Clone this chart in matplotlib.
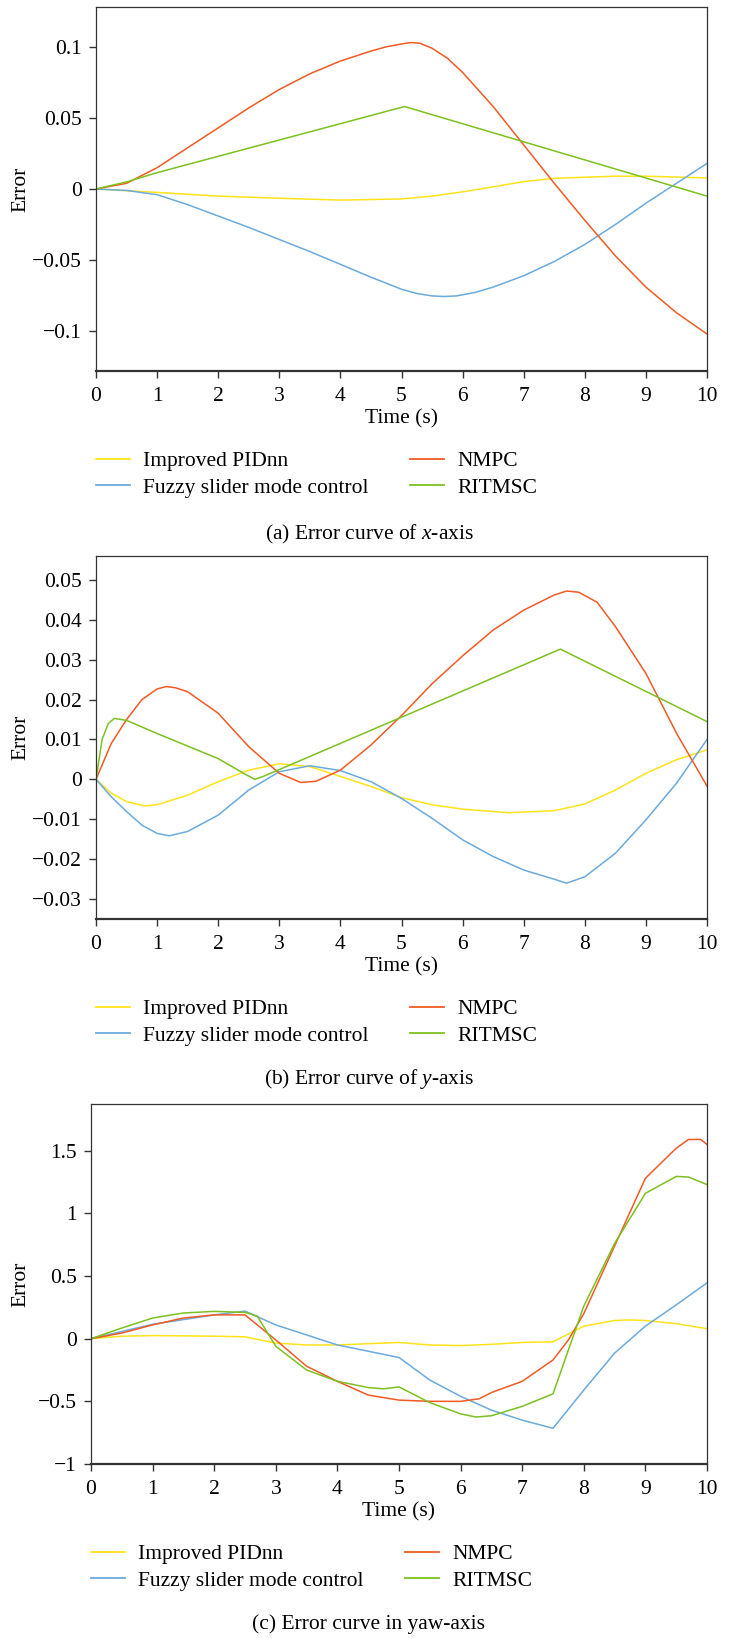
import matplotlib
matplotlib.use("Agg")
import matplotlib.pyplot as plt

plt.rcParams['font.family'] = ['Liberation Serif', 'DejaVu Serif']
plt.rcParams['mathtext.fontset'] = 'custom'
plt.rcParams['mathtext.rm'] = 'Liberation Serif'
plt.rcParams['mathtext.it'] = 'Liberation Serif:italic'

labels = ["Improved PIDnn", "Fuzzy slider mode control", "NMPC", "RITMSC"]
colors = ["#FFE31A", "#6BAADD", "#F25A24", "#7CC11F"]

# ---- (a) x-axis ----
a_pid_t = [0, 1, 2, 3, 4, 5, 5.5, 6, 6.5, 7, 7.5, 8, 8.5, 9, 10]
a_pid_e = [0, -0.0024, -0.005, -0.0065, -0.0078, -0.007, -0.005, -0.002, 0.0015, 0.0052, 0.0075, 0.0083, 0.009, 0.009, 0.0078]
a_fuz_t = [0, 0.5, 1, 1.5, 2, 2.5, 3, 3.5, 4, 4.5, 5, 5.25, 5.5, 5.7, 5.9, 6.2, 6.5, 7, 7.5, 8, 8.5, 9, 9.5, 10]
a_fuz_e = [0, -0.001, -0.004, -0.011, -0.019, -0.027, -0.0355, -0.044, -0.053, -0.062, -0.0705, -0.0735, -0.0752, -0.0756, -0.0752, -0.0728, -0.069, -0.061, -0.051, -0.039, -0.025, -0.010, 0.004, 0.018]
a_nmpc_t = [0, 0.5, 1, 1.5, 2, 2.5, 3, 3.5, 4, 4.5, 4.75, 5, 5.15, 5.3, 5.5, 5.75, 6, 6.5, 7, 7.5, 8, 8.5, 9, 9.5, 10]
a_nmpc_e = [0, 0.004, 0.015, 0.029, 0.043, 0.057, 0.070, 0.081, 0.090, 0.097, 0.100, 0.102, 0.103, 0.1025, 0.099, 0.092, 0.082, 0.058, 0.031, 0.004, -0.022, -0.047, -0.069, -0.087, -0.102]
a_rit_t = [0, 0.5, 1, 5.05, 10]
a_rit_e = [0, 0.005, 0.0115, 0.058, -0.005]

# ---- (b) y-axis ----
b_pid_t = [0, 0.25, 0.5, 0.8, 1, 1.5, 2, 2.5, 3, 3.5, 4, 4.5, 5, 5.5, 6, 6.75, 7.5, 8, 8.5, 9, 9.5, 10]
b_pid_e = [0, -0.0035, -0.0056, -0.0067, -0.0064, -0.004, -0.0006, 0.0023, 0.0039, 0.0032, 0.0007, -0.0018, -0.0046, -0.0064, -0.0075, -0.0084, -0.0079, -0.0062, -0.0027, 0.0015, 0.0049, 0.0074]
b_fuz_t = [0, 0.25, 0.5, 0.75, 1, 1.2, 1.5, 2, 2.5, 3, 3.5, 4, 4.5, 5, 5.5, 6, 6.5, 7, 7.5, 7.7, 8, 8.5, 9, 9.5, 10]
b_fuz_e = [0, -0.0044, -0.0081, -0.0115, -0.0136, -0.0142, -0.0131, -0.009, -0.0027, 0.0019, 0.0034, 0.0022, -0.0006, -0.0048, -0.0098, -0.0152, -0.0194, -0.0228, -0.0251, -0.0261, -0.0245, -0.0186, -0.0102, -0.001, 0.010]
b_nmpc_t = [0, 0.25, 0.5, 0.75, 1, 1.15, 1.3, 1.5, 2, 2.5, 3, 3.35, 3.6, 4, 4.5, 5, 5.5, 6, 6.5, 7, 7.5, 7.7, 7.9, 8.2, 8.5, 9, 9.5, 10]
b_nmpc_e = [0, 0.009, 0.015, 0.020, 0.0227, 0.0233, 0.0230, 0.022, 0.0166, 0.0082, 0.0015, -0.0008, -0.0005, 0.0023, 0.0086, 0.016, 0.024, 0.031, 0.0375, 0.0425, 0.0463, 0.0473, 0.0470, 0.0445, 0.0384, 0.0266, 0.0116, -0.0017]
b_rit_t = [0, 0.1, 0.2, 0.3, 0.5, 1, 2, 2.45, 2.6, 2.75, 7.6, 10]
b_rit_e = [0, 0.010, 0.014, 0.0153, 0.0148, 0.0115, 0.0052, 0.0012, 0.0, 0.0008, 0.0327, 0.0145]

# ---- (c) yaw-axis ----
c_pid_t = [0, 0.5, 1, 2, 2.5, 3, 3.5, 4, 5, 5.5, 6, 6.5, 7, 7.5, 8, 8.5, 8.75, 9, 9.5, 10]
c_pid_e = [0, 0.02, 0.025, 0.02, 0.015, -0.035, -0.05, -0.05, -0.03, -0.05, -0.055, -0.045, -0.03, -0.025, 0.10, 0.145, 0.15, 0.145, 0.12, 0.08]
c_fuz_t = [0, 1, 2, 2.5, 3, 4, 5, 5.5, 6, 6.5, 7, 7.5, 8, 8.5, 9, 9.5, 10]
c_fuz_e = [0, 0.115, 0.19, 0.22, 0.11, -0.05, -0.15, -0.33, -0.46, -0.57, -0.65, -0.715, -0.41, -0.115, 0.10, 0.27, 0.445]
c_nmpc_t = [0, 0.5, 1, 1.5, 2, 2.5, 3, 3.5, 4, 4.5, 5, 5.5, 6, 6.3, 6.5, 7, 7.5, 7.75, 8, 8.5, 9, 9.5, 9.7, 9.9, 10]
c_nmpc_e = [0, 0.045, 0.11, 0.165, 0.19, 0.19, -0.01, -0.22, -0.34, -0.45, -0.49, -0.50, -0.50, -0.48, -0.43, -0.34, -0.17, -0.01, 0.2, 0.74, 1.28, 1.52, 1.59, 1.59, 1.55]
c_rit_t = [0, 0.5, 1, 1.5, 2, 2.5, 2.7, 3, 3.5, 4, 4.5, 4.75, 5, 5.5, 6, 6.25, 6.5, 7, 7.5, 7.75, 8, 8.5, 9, 9.5, 9.7, 10]
c_rit_e = [0, 0.085, 0.165, 0.205, 0.218, 0.21, 0.18, -0.06, -0.25, -0.34, -0.39, -0.40, -0.385, -0.51, -0.60, -0.625, -0.615, -0.54, -0.44, -0.09, 0.26, 0.76, 1.16, 1.295, 1.29, 1.23]

a_yticks = [-0.1, -0.05, 0, 0.05, 0.1]
a_yticklabels = ["\u22120.1", "\u22120.05", "0", "0.05", "0.1"]
b_yticks = [-0.03, -0.02, -0.01, 0, 0.01, 0.02, 0.03, 0.04, 0.05]
b_yticklabels = ["\u22120.03", "\u22120.02", "\u22120.01", "0", "0.01", "0.02", "0.03", "0.04", "0.05"]
c_yticks = [-1, -0.5, 0, 0.5, 1, 1.5]
c_yticklabels = ["\u22121", "\u22120.5", "0", "0.5", "1", "1.5"]
xticks = list(range(11))

captions = ["(a) Error curve of $\\mathit{x}$-axis",
            "(b) Error curve of $\\mathit{y}$-axis",
            "(c) Error curve in yaw-axis"]

W, H = 738, 1638
fig = plt.figure(figsize=(W / 100, H / 100), dpi=100)

# axes boxes in pixels: left, right, top, bottom
boxes = [(96, 707, 7, 371), (96, 707, 556, 919), (91, 707, 1104, 1464)]
ylims = [(-0.128, 0.128), (-0.0351, 0.0561), (-1, 1.873)]
yticks = [a_yticks, b_yticks, c_yticks]
yticklabels = [a_yticklabels, b_yticklabels, c_yticklabels]
cap_ys = [534, 1079, 1624]
series = [
    [(a_pid_t, a_pid_e), (a_fuz_t, a_fuz_e), (a_nmpc_t, a_nmpc_e), (a_rit_t, a_rit_e)],
    [(b_pid_t, b_pid_e), (b_fuz_t, b_fuz_e), (b_nmpc_t, b_nmpc_e), (b_rit_t, b_rit_e)],
    [(c_pid_t, c_pid_e), (c_fuz_t, c_fuz_e), (c_nmpc_t, c_nmpc_e), (c_rit_t, c_rit_e)],
]

fs = 15.5
for i in range(3):
    l, r, t, b = boxes[i]
    ax = fig.add_axes([l / W, 1 - b / H, (r - l) / W, (b - t) / H])
    handles = []
    for k, (tt, ee) in enumerate(series[i]):
        h, = ax.plot(tt, ee, color=colors[k], lw=1.1, label=labels[k])
        handles.append(h)
    ax.set_xlim(0, 10)
    ax.set_ylim(*ylims[i])
    ax.set_xticks(xticks)
    ax.set_xticklabels([str(x) for x in xticks], fontsize=fs)
    ax.set_yticks(yticks[i])
    ax.set_yticklabels(yticklabels[i], fontsize=fs)
    ax.tick_params(direction='out', length=5, width=1, colors='#333333', labelcolor='black')
    ax.tick_params(axis='x', pad=6.5)
    ax.tick_params(axis='y', pad=5)
    for s in ['top', 'right', 'left']:
        ax.spines[s].set_linewidth(0.9)
        ax.spines[s].set_color('#333333')
    ax.spines['bottom'].set_linewidth(1.6)
    ax.spines['bottom'].set_color('#333333')
    ax.set_xlabel("Time (s)", fontsize=fs, labelpad=2)
    ax.set_ylabel("Error", fontsize=fs)
    ax.yaxis.set_label_coords((30 - l) / (r - l), 0.5)

    leg = ax.legend(handles=handles, ncol=2, loc='upper left', frameon=False,
                    bbox_to_anchor=(0.0, -80 / (b - t)), fontsize=fs,
                    handlelength=1.6, handletextpad=0.6, columnspacing=1.9,
                    borderaxespad=0, borderpad=0, labelspacing=0.3)
    for lh in leg.get_lines():
        lh.set_linewidth(1.3)

    fig.text(0.5, 1 - cap_ys[i] / H, captions[i], ha='center', va='center', fontsize=fs)

fig.savefig("out.png", dpi=100)
